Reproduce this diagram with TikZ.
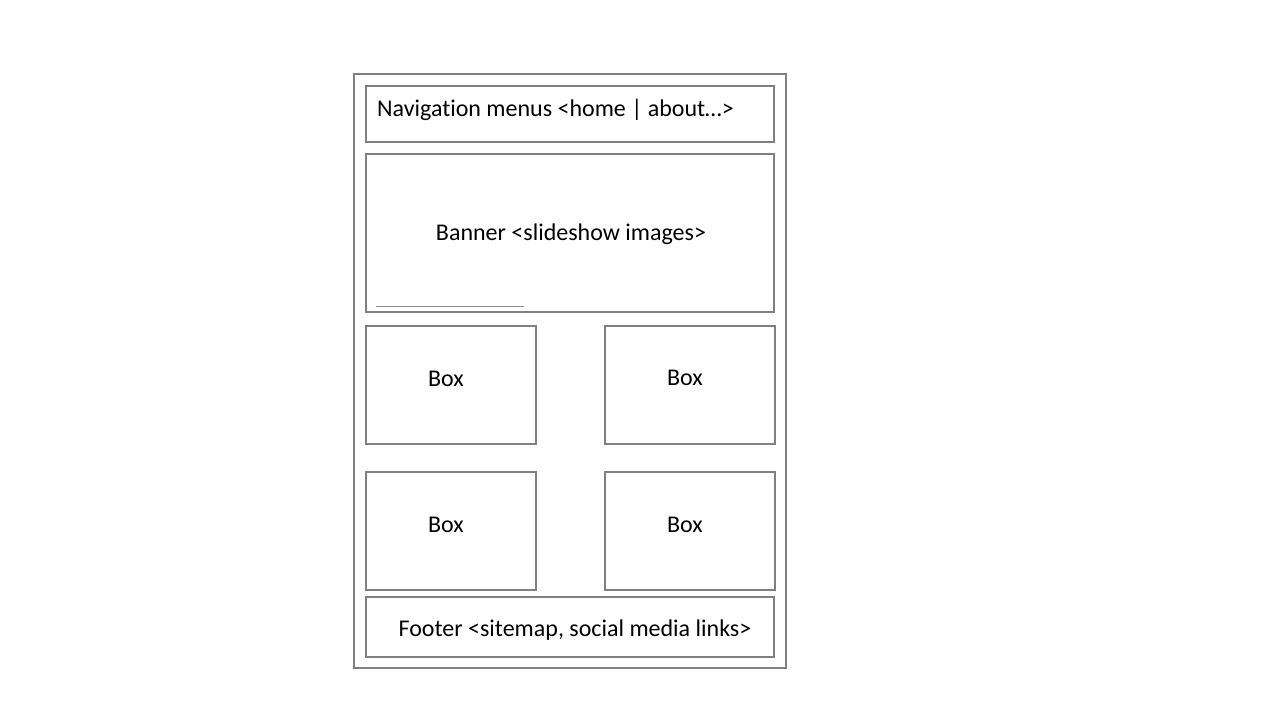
\documentclass[tikz,border=0pt]{standalone}
\usepackage{fontspec}
\setmainfont[Ligatures={NoCommon}]{Carlito}
\begin{document}
\begin{tikzpicture}[x=1pt,y=-1pt,
  frame/.style={draw=black!50,line width=2.8pt},
  lbl/.style={font=\fontsize{24}{28}\selectfont,text=black,inner sep=0pt}]
\useasboundingbox[fill=white] (0,0) rectangle (1280,720);
\draw[frame] (354,74) rectangle (786,668);
\draw[frame] (366,86) rectangle (774,142);
\node[lbl,anchor=west] (nav) at (377,110) {Navigation menus <home | about\ldots>};
\draw[frame] (366,154) rectangle (774,312);
\node[lbl] (banner) at (571,234) {Banner <slideshow images>};
\coordinate (l1) at (376,306);
\coordinate (l2) at (524,306);
\draw[black!45,line width=0.6pt] (l1) -- (l2);
\draw[frame] (366,326) rectangle (536,444);
\draw[frame] (605,326) rectangle (775,444);
\draw[frame] (366,472) rectangle (536,590);
\draw[frame] (605,472) rectangle (775,590);
\node[lbl] (b1) at (446,379) {Box};
\node[lbl] (b2) at (685,378) {Box};
\node[lbl] (b3) at (446,525) {Box};
\node[lbl] (b4) at (685,525) {Box};
\draw[frame] (366,597) rectangle (774,657);
\node[lbl] (footer) at (575,630) {Footer <sitemap, social media links>};
\end{tikzpicture}
\end{document}
